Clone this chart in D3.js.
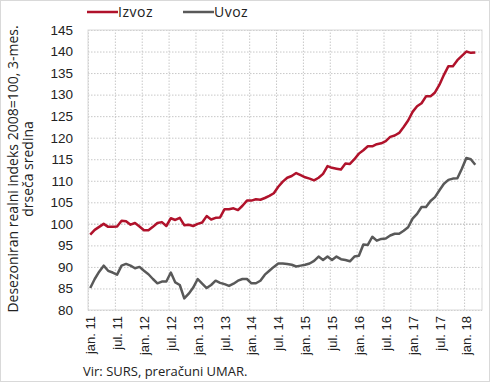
<!DOCTYPE html>
<html>
<head>
  <meta charset="utf-8">
  <script src="https://d3js.org/d3.v7.min.js"></script>
  <style>
    body { margin: 0; font-family: "Open Sans", sans-serif; background: #fff; }
    .tick text { font-size: 12px; fill: #222; }
    .grid line { stroke: #c8c8c8; stroke-dasharray: 1.5,1.5; }
  </style>
</head>
<body>
  <div id="chart"></div>
  <script>
    // monthly values, jan. 2011 - mar. 2018
    const izvoz = [
      97.5, 98.6, 99.3, 100.0, 99.3, 99.3, 99.4, 100.7, 100.6, 99.8,
      100.2, 99.4, 98.5, 98.5, 99.3, 100.2, 100.4, 99.5, 101.3, 100.9,
      101.4, 99.7, 99.8, 99.5, 100.0, 100.3, 101.8, 101.0, 101.4, 101.5,
      103.4, 103.4, 103.6, 103.2, 104.2, 105.4, 105.4, 105.7, 105.6, 106.0,
      106.5, 107.1, 108.6, 109.8, 110.7, 111.1, 111.8, 111.3, 110.8, 110.5,
      110.1, 110.7, 111.6, 113.4, 113.0, 112.8, 112.6, 114.0, 113.9, 115.0,
      116.3, 117.1, 118.0, 118.0, 118.5, 118.7, 119.2, 120.2, 120.5, 121.1,
      122.5, 124.0, 126.0, 127.3, 128.0, 129.6, 129.6, 130.5, 132.3, 134.6,
      136.6, 136.6, 138.0, 139.0, 140.0, 139.7, 139.8
    ];
    const uvoz = [
      85.1, 87.2, 88.9, 90.3, 89.1, 88.7, 88.2, 90.3, 90.7, 90.3,
      89.7, 90.0, 89.1, 88.3, 87.2, 86.2, 86.6, 86.6, 88.7, 86.4,
      85.8, 82.7, 83.8, 85.2, 87.2, 86.1, 85.1, 85.8, 86.8, 86.3,
      86.0, 85.6, 86.1, 86.8, 87.2, 87.2, 86.2, 86.2, 86.8, 88.2,
      89.1, 90.0, 90.8, 90.8, 90.7, 90.5, 90.1, 90.3, 90.5, 90.8,
      91.4, 92.4, 91.6, 92.4, 91.6, 92.4, 91.8, 91.6, 91.3, 92.4,
      92.6, 95.2, 95.1, 97.0, 96.1, 96.5, 96.6, 97.3, 97.7, 97.7,
      98.4, 99.2, 101.2, 102.3, 103.9, 103.9, 105.3, 106.2, 107.8, 109.3,
      110.2, 110.5, 110.6, 112.8, 115.3, 115.0, 113.7
    ];
    const xLabels = ["jan. 11", "jul. 11", "jan. 12", "jul. 12", "jan. 13", "jul. 13", "jan. 14", "jul. 14",
                     "jan. 15", "jul. 15", "jan. 16", "jul. 16", "jan. 17", "jul. 17", "jan. 18"];
    const yTicks = [80, 85, 90, 95, 100, 105, 110, 115, 120, 125, 130, 135, 140, 145];
    const series = [
      {name: "Izvoz", values: izvoz, color: "#b0122b"},
      {name: "Uvoz", values: uvoz, color: "#595959"}
    ];

    const W = 490, H = 382;
    const margin = {top: 30, right: 8, bottom: 72, left: 88};
    const width = W - margin.left - margin.right;
    const height = H - margin.top - margin.bottom;

    const root = d3.select("#chart").append("svg")
      .attr("width", W)
      .attr("height", H);

    root.append("rect")
      .attr("x", 0.5).attr("y", 0.5)
      .attr("width", W - 1).attr("height", H - 1)
      .attr("fill", "none").attr("stroke", "#d9d9d9");

    const svg = root.append("g")
      .attr("transform", `translate(${margin.left},${margin.top})`);

    const nCat = 88;
    const x = d3.scaleLinear().domain([0, nCat]).range([0, width]);
    const y = d3.scaleLinear().domain([80, 145]).range([height, 0]);

    // gridlines
    svg.append("g")
      .attr("class", "grid")
      .call(d3.axisLeft(y).tickValues(yTicks).tickSize(-width).tickFormat(""))
      .call(g => g.select(".domain").remove())
      .call(g => g.selectAll(".tick").filter(d => d === 100).select("line")
        .attr("stroke", "#d9d9d9").attr("stroke-dasharray", null).attr("stroke-width", 1.5));

    svg.append("g")
      .attr("class", "grid")
      .attr("transform", `translate(0,${height})`)
      .call(d3.axisBottom(x).tickValues(d3.range(0, nCat + 1, 6)).tickSize(-height).tickFormat(""))
      .call(g => g.select(".domain").remove());

    // frame
    svg.append("rect")
      .attr("width", width).attr("height", height)
      .attr("fill", "none").attr("stroke", "#d9d9d9");

    // y axis labels
    svg.append("g")
      .call(d3.axisLeft(y).tickValues(yTicks).tickSize(0).tickPadding(15))
      .call(g => g.select(".domain").remove())
      .call(g => g.selectAll("text").style("font-size", "13.5px"));

    // x axis labels (centred on categories)
    svg.append("g")
      .attr("transform", `translate(0,${height})`)
      .call(d3.axisBottom(x).tickValues(xLabels.map((d, i) => i * 6 + 0.5))
        .tickFormat((d, i) => xLabels[i]).tickSize(0))
      .call(g => g.select(".domain").remove())
      .call(g => g.selectAll("text")
        .style("font-size", "13px")
        .attr("transform", "rotate(-90)")
        .attr("text-anchor", "end")
        .attr("x", -6)
        .attr("y", 0)
        .attr("dy", "0.35em"));

    // lines
    const line = d3.line()
      .x((d, i) => x(i + 0.5))
      .y(d => y(d));

    svg.selectAll(".series")
      .data(series)
      .join("path")
        .attr("class", "series")
        .attr("fill", "none")
        .attr("stroke", d => d.color)
        .attr("stroke-width", 2.5)
        .attr("stroke-linejoin", "round")
        .attr("d", d => line(d.values));

    // legend
    const legend = root.append("g").attr("transform", "translate(87,12)");
    series.forEach((s, i) => {
      const lg = legend.append("g").attr("transform", `translate(${i * 96},0)`);
      lg.append("line")
        .attr("x1", 0).attr("x2", 31)
        .attr("stroke", s.color).attr("stroke-width", 2.5);
      lg.append("text")
        .attr("x", 31).attr("y", 5)
        .style("font-size", "14px").style("letter-spacing", "0.5px").attr("fill", "#222")
        .text(s.name);
    });

    // y axis title
    root.append("text")
      .attr("transform", `translate(18,${margin.top + height / 2 - 1}) rotate(-90)`)
      .attr("text-anchor", "middle")
      .style("font-size", "14px").attr("fill", "#222")
      .selectAll("tspan")
      .data(["Desezoniran realni indeks 2008=100, 3-mes.", "drseča sredina"])
      .join("tspan")
        .attr("x", 0)
        .attr("dy", (d, i) => i === 0 ? 0 : 15)
        .text(d => d);

    // source
    root.append("text")
      .attr("x", 83).attr("y", 376)
      .style("font-size", "13px").attr("fill", "#222")
      .text("Vir: SURS, preračuni UMAR.");
  </script>
</body>
</html>
